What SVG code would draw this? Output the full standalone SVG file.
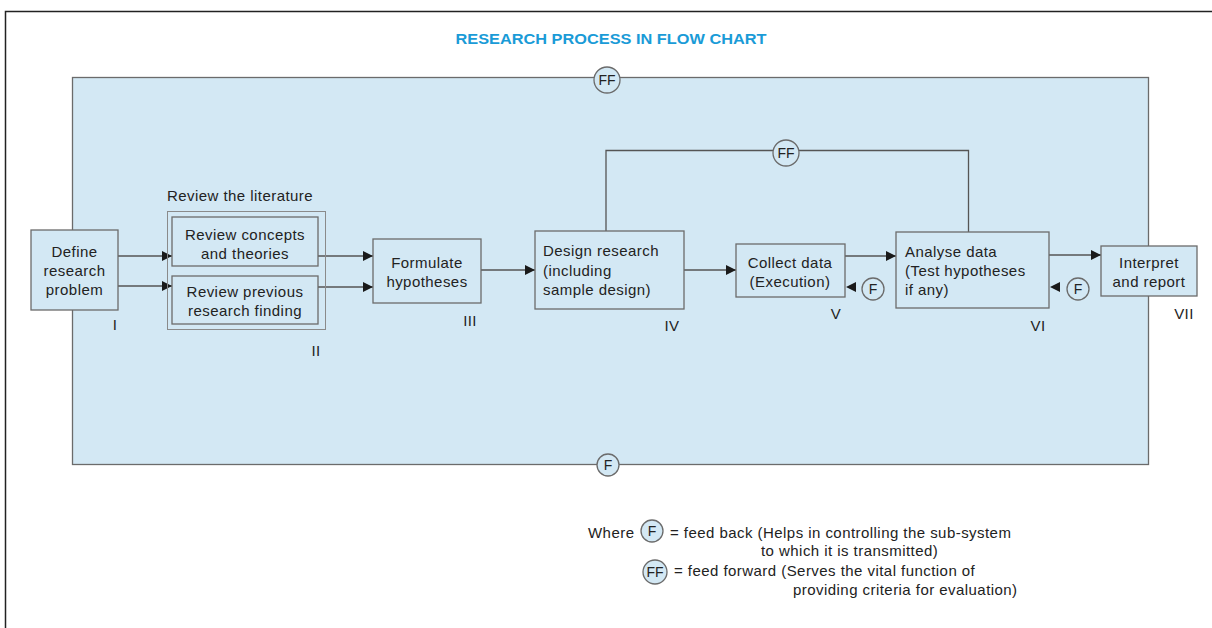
<svg xmlns="http://www.w3.org/2000/svg" width="1212" height="628" viewBox="0 0 1212 628">
  <defs>
    <marker id="arrow" viewBox="0 0 10 10" refX="10" refY="5" markerWidth="10" markerHeight="10" markerUnits="userSpaceOnUse" orient="auto">
      <path d="M0,0 L10,5 L0,10 Z" fill="#1a1a1a"/>
    </marker>
    <style>
      .box { fill: #d3e8f4; stroke: #6b6b6b; stroke-width: 1.3; }
      .grp { fill: none; stroke: #8a8a8a; stroke-width: 1; }
      .lbl { font-family: "Liberation Sans", Arial, sans-serif; font-size: 15px; letter-spacing: 0.45px; fill: #222; }
      .mid { text-anchor: middle; }
      .num { font-family: "Liberation Sans", Arial, sans-serif; font-size: 15px; letter-spacing: 0.4px; fill: #222; text-anchor: middle; }
      .conn { fill: none; stroke: #555; stroke-width: 1.3; }
      .circ { fill: #d3e8f4; stroke: #6b6b6b; stroke-width: 1.3; }
      .ctext { font-family: "Liberation Sans", Arial, sans-serif; font-size: 14px; fill: #222; text-anchor: middle; }
      .head { fill: #1a1a1a; }
    </style>
  </defs>

  <rect width="1212" height="628" fill="#ffffff"/>

  <!-- page frame -->
  <path d="M5.5,628 V11.5 H1212" fill="none" stroke="#222" stroke-width="1.5"/>

  <!-- title -->
  <text x="611" y="44" text-anchor="middle" font-family="'Liberation Sans', Arial, sans-serif" font-size="15" font-weight="bold" fill="#1a9bd7" textLength="311" lengthAdjust="spacingAndGlyphs">RESEARCH  PROCESS  IN FLOW CHART</text>

  <!-- system boundary -->
  <rect x="72.5" y="77.5" width="1076" height="387" fill="#d3e8f4" stroke="#6b6b6b" stroke-width="1.3"/>

  <!-- connectors -->
  <g id="connectors">
    <line class="conn" x1="118" y1="256" x2="172" y2="256" marker-end="url(#arrow)"/>
    <line class="conn" x1="118" y1="286" x2="172" y2="286" marker-end="url(#arrow)"/>
    <line class="conn" x1="318" y1="256" x2="373" y2="256" marker-end="url(#arrow)"/>
    <line class="conn" x1="318" y1="287" x2="373" y2="287" marker-end="url(#arrow)"/>
    <line class="conn" x1="481" y1="270" x2="535" y2="270" marker-end="url(#arrow)"/>
    <line class="conn" x1="684" y1="270" x2="736" y2="270" marker-end="url(#arrow)"/>
    <line class="conn" x1="845" y1="256" x2="896" y2="256" marker-end="url(#arrow)"/>
    <line class="conn" x1="1049" y1="255" x2="1101" y2="255" marker-end="url(#arrow)"/>
    <!-- feed-forward loop from design to analysis -->
    <path class="conn" d="M606,231 V150.5 H968.5 V232"/>
    <!-- feedback arrowheads -->
    <path class="head" d="M846,287 L856,282 L856,292 Z"/>
    <path class="head" d="M1050,287 L1060,282 L1060,292 Z"/>
  </g>

  <!-- feed markers -->
  <g id="ff-top">
    <circle class="circ" cx="607" cy="80" r="13"/>
    <text class="ctext" x="607" y="85">FF</text>
  </g>
  <g id="f-bottom">
    <circle class="circ" cx="608" cy="465" r="11"/>
    <text class="ctext" x="608" y="470">F</text>
  </g>
  <g id="ff-mid">
    <circle class="circ" cx="786" cy="153" r="13"/>
    <text class="ctext" x="786" y="158">FF</text>
  </g>
  <g id="f-collect">
    <circle class="circ" cx="873" cy="289" r="11"/>
    <text class="ctext" x="873" y="294">F</text>
  </g>
  <g id="f-analyse">
    <circle class="circ" cx="1078" cy="289" r="11"/>
    <text class="ctext" x="1078" y="294">F</text>
  </g>

  <!-- I -->
  <g id="define">
    <rect class="box" x="31" y="230" width="87" height="80"/>
    <text class="lbl mid" x="74.5" y="257">Define</text>
    <text class="lbl mid" x="74.5" y="276">research</text>
    <text class="lbl mid" x="74.5" y="295">problem</text>
    <text class="num" x="115" y="330">I</text>
  </g>

  <!-- II -->
  <g id="review">
    <text class="lbl mid" x="240" y="201">Review the literature</text>
    <rect class="grp" x="167.5" y="211.5" width="158" height="118"/>
    <rect class="box" x="172" y="217" width="146" height="49"/>
    <text class="lbl mid" x="245" y="240">Review concepts</text>
    <text class="lbl mid" x="245" y="259">and theories</text>
    <rect class="box" x="172" y="276" width="146" height="48"/>
    <text class="lbl mid" x="245" y="297">Review previous</text>
    <text class="lbl mid" x="245" y="316">research finding</text>
    <text class="num" x="316" y="356">II</text>
  </g>

  <!-- III -->
  <g id="formulate">
    <rect class="box" x="373" y="239" width="108" height="64"/>
    <text class="lbl mid" x="427" y="268">Formulate</text>
    <text class="lbl mid" x="427" y="287">hypotheses</text>
    <text class="num" x="470" y="326">III</text>
  </g>

  <!-- IV -->
  <g id="design">
    <rect class="box" x="535" y="231" width="149" height="78"/>
    <text class="lbl" x="543" y="256">Design research</text>
    <text class="lbl" x="543" y="276">(including</text>
    <text class="lbl" x="543" y="295">sample design)</text>
    <text class="num" x="672" y="331">IV</text>
  </g>

  <!-- V -->
  <g id="collect">
    <rect class="box" x="736" y="244" width="109" height="53"/>
    <text class="lbl mid" x="790" y="268">Collect data</text>
    <text class="lbl mid" x="790" y="287">(Execution)</text>
    <text class="num" x="836" y="319">V</text>
  </g>

  <!-- VI -->
  <g id="analyse">
    <rect class="box" x="896" y="232" width="153" height="76"/>
    <text class="lbl" x="905" y="257">Analyse data</text>
    <text class="lbl" x="905" y="276">(Test hypotheses</text>
    <text class="lbl" x="905" y="295">if any)</text>
    <text class="num" x="1038" y="331">VI</text>
  </g>

  <!-- VII -->
  <g id="interpret">
    <rect class="box" x="1101" y="246" width="96" height="50"/>
    <text class="lbl mid" x="1149" y="268">Interpret</text>
    <text class="lbl mid" x="1149" y="287">and report</text>
    <text class="num" x="1184" y="319">VII</text>
  </g>

  <!-- key -->
  <g id="legend">
    <text class="lbl" x="588" y="538">Where</text>
    <circle class="circ" cx="652" cy="531" r="11"/>
    <text class="ctext" x="652" y="536">F</text>
    <text class="lbl" x="670" y="538">= feed back (Helps in controlling the sub-system</text>
    <text class="lbl" x="761" y="556">to which it is transmitted)</text>
    <circle class="circ" cx="655" cy="572" r="12"/>
    <text class="ctext" x="655" y="577">FF</text>
    <text class="lbl" x="674" y="576">= feed forward (Serves the vital function of</text>
    <text class="lbl" x="793" y="595">providing criteria for evaluation)</text>
  </g>
</svg>
